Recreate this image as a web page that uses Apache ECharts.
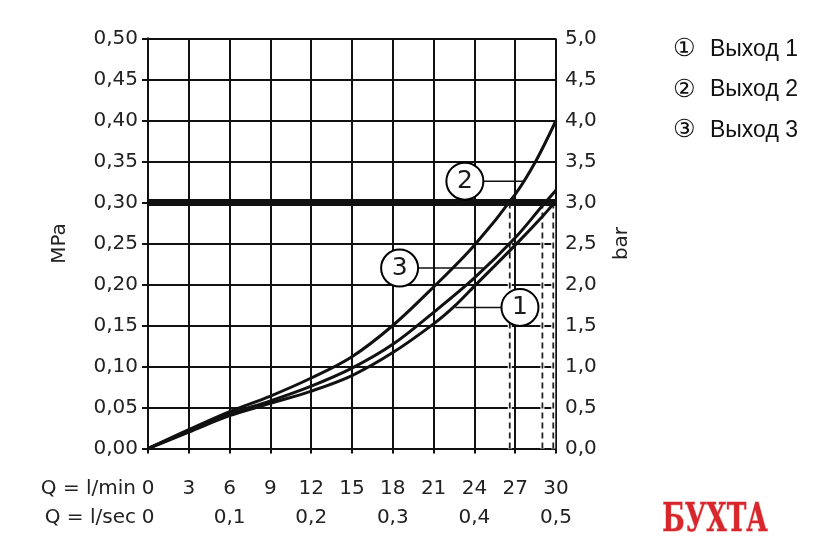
<!DOCTYPE html>
<html>
<head>
<meta charset="utf-8">
<script src="https://cdn.jsdelivr.net/npm/echarts@6/dist/echarts.min.js"></script>
<style>
html,body{margin:0;padding:0;background:#fff;}
#chart{width:840px;height:555px;}
</style>
</head>
<body>
<div id="chart"></div>
<script>
// ---- data ----
const seriesNames = ['Выход 1', 'Выход 2', 'Выход 3'];
const q1 = [0, 3, 6, 9, 12, 15, 18, 21, 22.5, 24, 27, 29, 30];
const p1 = [0, 0.020, 0.040, 0.055, 0.070, 0.089, 0.117, 0.152, 0.173, 0.198, 0.248, 0.283, 0.302];
const q2 = [0, 3, 6, 9, 12, 15, 18, 21, 24, 27, 28.5, 30];
const p2 = [0, 0.023, 0.045, 0.064, 0.086, 0.112, 0.150, 0.197, 0.248, 0.310, 0.350, 0.400];
const q3 = [0, 3, 6, 9, 12, 15, 18, 21, 24, 27, 29, 30];
const p3 = [0, 0.021, 0.042, 0.058, 0.076, 0.098, 0.127, 0.166, 0.208, 0.257, 0.296, 0.315];
const thresholdMPa = 0.30;
const dashQ = [26.6, 29.0, 29.8];
const calloutLabels = ['1', '2', '3'];
const calloutQ = [27.35, 23.3, 18.5];
const calloutP = [0.172, 0.326, 0.220];
const leaderEndQ = [22.6, 27.6, 24.65];
const circled = ['①', '②', '③'];

const zip = (a, b) => a.map((v, i) => [v, b[i]]);
const comma = (v, d) => v.toFixed(d).replace('.', ',');
const INK = '#111';
const FONT = '"DejaVu Sans", sans-serif';

const series = [];
// dashed verticals (white halo + dashed)
dashQ.forEach(q => {
  series.push({
    type: 'line', data: [[q, 0], [q, thresholdMPa]], symbol: 'none', silent: true, z: 3,
    lineStyle: { color: '#fff', width: 4 }
  });
  series.push({
    type: 'line', data: [[q, 0], [q, thresholdMPa]], symbol: 'none', silent: true, z: 4,
    lineStyle: { color: '#222', width: 1.8, type: [6, 4] }
  });
});
// threshold
series.push({
  type: 'line', data: [], silent: true, z: 5,
  markLine: { silent: true, symbol: 'none', label: { show: false },
    lineStyle: { color: INK, width: 7, type: 'solid' },
    data: [{ yAxis: thresholdMPa }] }
});
// curves
[[q1, p1], [q2, p2], [q3, p3]].forEach((d, i) => {
  series.push({
    name: seriesNames[i], type: 'line', data: zip(d[0], d[1]), smooth: 0.35,
    symbol: 'none', z: 6, lineStyle: { color: INK, width: 3 }, itemStyle: { color: INK }
  });
});
// leaders
calloutLabels.forEach((l, i) => {
  series.push({
    type: 'line', data: [[calloutQ[i], calloutP[i]], [leaderEndQ[i], calloutP[i]]],
    symbol: 'none', silent: true, z: 7, lineStyle: { color: INK, width: 1.5 }
  });
});
// callout circles
series.push({
  type: 'scatter', z: 8, silent: true, symbol: 'circle', symbolSize: 37,
  data: calloutLabels.map((l, i) => ({ name: l, value: [calloutQ[i], calloutP[i]] })),
  itemStyle: { color: '#fff', borderColor: '#000', borderWidth: 2, opacity: 1 },
  label: { show: true, position: 'inside', formatter: p => p.name,
    fontFamily: FONT, fontSize: 25, color: '#1a1a1a' }
});

const chart = echarts.init(document.getElementById('chart'), null, { renderer: 'canvas' });
chart.setOption({
  backgroundColor: '#fff',
  animation: false,
  grid: { left: 148, right: 284, top: 38.5, bottom: 106.5, containLabel: false },
  legend: {
    orient: 'vertical', left: 638, top: 32, icon: 'none', itemGap: 15.5, itemHeight: 24,
    selectedMode: false,
    data: seriesNames,
    formatter: name => '{c|' + circled[seriesNames.indexOf(name)] + '}{t|' + name + '}',
    textStyle: {
      color: '#111',
      rich: {
        c: { fontFamily: '"DejaVu Sans", "Noto Sans CJK SC"', fontSize: 25, width: 37, color: '#111' },
        t: { fontFamily: '"Liberation Sans", Arial, sans-serif', fontSize: 23, color: '#111' }
      }
    }
  },
  xAxis: [{
    type: 'value', min: 0, max: 30, interval: 3,
    axisLine: { show: true, lineStyle: { color: INK, width: 2 } },
    axisTick: { show: true, length: 5, lineStyle: { color: INK, width: 2 } },
    splitLine: { show: true, lineStyle: { color: INK, width: 2 } },
    axisLabel: { margin: 30, fontFamily: FONT, fontSize: 20, color: '#222' }
  }, {
    type: 'value', min: 0, max: 0.5, interval: 0.1, position: 'bottom',
    axisLine: { show: false }, axisTick: { show: false }, splitLine: { show: false },
    axisLabel: { margin: 59, fontFamily: FONT, fontSize: 20, color: '#222', formatter: v => v === 0 ? '0' : comma(v, 1) }
  }],
  yAxis: [{
    type: 'value', min: 0, max: 0.5, interval: 0.05, position: 'left',
    name: 'MPa', nameLocation: 'middle', nameGap: 78, nameRotate: 90,
    nameTextStyle: { fontFamily: FONT, fontSize: 20, color: '#222' },
    axisLine: { show: true, lineStyle: { color: INK, width: 2 } },
    axisTick: { show: true, length: 6, lineStyle: { color: INK, width: 2 } },
    splitLine: { show: true, lineStyle: { color: INK, width: 2 } },
    axisLabel: { margin: 10, fontFamily: FONT, fontSize: 20, color: '#222', formatter: v => comma(v, 2) }
  }, {
    type: 'value', min: 0, max: 5, interval: 0.5, position: 'right',
    name: 'bar', nameLocation: 'middle', nameGap: 56, nameRotate: 90,
    nameTextStyle: { fontFamily: FONT, fontSize: 20, color: '#222' },
    axisLine: { show: true, lineStyle: { color: INK, width: 2 } },
    axisTick: { show: true, length: 6, lineStyle: { color: INK, width: 2 } },
    splitLine: { show: false },
    axisLabel: { margin: 9, fontFamily: FONT, fontSize: 20, color: '#222', formatter: v => comma(v, 1) }
  }],
  graphic: [
    { type: 'text', x: 136, y: 489, style: { text: 'Q = l/min', font: '20px ' + FONT, fill: '#222', textAlign: 'right', textVerticalAlign: 'middle' } },
    { type: 'text', x: 136, y: 518, style: { text: 'Q = l/sec', font: '20px ' + FONT, fill: '#222', textAlign: 'right', textVerticalAlign: 'middle' } },
    { type: 'text', x: 715, y: 521, scaleX: 0.66, style: { text: 'БУХТА', font: 'bold 40px "DejaVu Serif", serif', fill: '#d7262c', stroke: '#f3b9b9', lineWidth: 1.5, textAlign: 'center', textVerticalAlign: 'middle' } }
  ],
  series: series
});
</script>
</body>
</html>
